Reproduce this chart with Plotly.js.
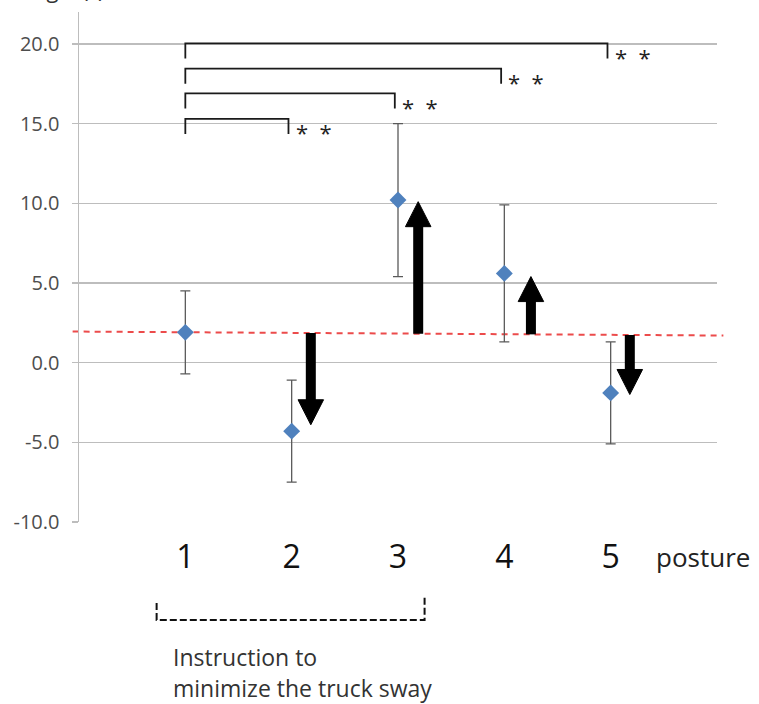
<!DOCTYPE html>
<html>
<head>
<meta charset="utf-8">
<script src="https://cdn.plot.ly/plotly-3.0.1.min.js"></script>
<style>html,body{margin:0;padding:0;background:#fff;}#chart{width:759px;height:704px;}</style>
</head>
<body>
<div id="chart"></div>
<script>
// ---- data ----
const postures = [1, 2, 3, 4, 5];
const tickLabels = ['1', '2', '3', '4', '5'];
const means = [1.9, -4.3, 10.2, 5.6, -1.9];
const errors = [2.6, 3.2, 4.8, 4.3, 3.2];
const yTicks = [-10, -5, 0, 5, 10, 15, 20];
const baselineEnds = [1.95, 1.7];           // red dashed reference line (left, right)
const arrowPostures = [2, 3, 4, 5];
const arrowTips = [-3.9, 10.1, 5.4, -2.0];
const arrowOffsets = [0.18, 0.19, 0.25, 0.18];
const sigPairs = [[1, 5], [1, 4], [1, 3], [1, 2]];
const sigLevels = [20.03, 18.45, 16.9, 15.3];
const sigLabels = ['*\u00a0\u00a0*', '*\u00a0\u00a0*', '*\u00a0\u00a0*', '*\u00a0\u00a0*'];
const groupSpan = [0.73, 3.25];
const groupLabel = ['Instruction to', 'minimize the truck sway'];

// ---- styles ----
const FONT = 'Open Sans, Lato, DejaVu Sans, sans-serif';
const GRID = '#bdbdbd';
const xRange = [0, 6];
const yRange = [-10, 22];

const traces = [{
  x: postures, y: means, type: 'scatter', mode: 'markers',
  marker: {symbol: 'diamond', size: 13, color: '#4F81BD'},
  error_y: {type: 'data', array: errors, visible: true, color: '#5a5a5a', thickness: 1.3, width: 5},
  showlegend: false, hoverinfo: 'skip'
}];

const shapes = [];
// red dashed reference line (paper x so it extends slightly beyond axes)
shapes.push({type: 'line', xref: 'paper', yref: 'y', x0: -0.01, x1: 1.01,
  y0: baselineEnds[0], y1: baselineEnds[1],
  line: {color: '#ec4b4b', width: 2, dash: '6px,5px'}, layer: 'below'});

// significance brackets
const drop = 0.95;
sigPairs.forEach((p, i) => {
  const y = sigLevels[i];
  const x0 = p[0], x1 = p[1] - 0.03;
  shapes.push({type: 'path', xref: 'x', yref: 'y',
    path: `M ${x0},${y - drop} L ${x0},${y} L ${x1},${y} L ${x1},${y - drop}`,
    line: {color: '#1a1a1a', width: 1.8}});
});

// arrows
const headHalfW = 0.12, headH = 1.57;
function baseAt(x) {
  const f = (x - xRange[0]) / (xRange[1] - xRange[0]);
  return baselineEnds[0] + (baselineEnds[1] - baselineEnds[0]) * f;
}
arrowPostures.forEach((p, i) => {
  const x = p + arrowOffsets[i];
  const base = baseAt(x);
  const tip = arrowTips[i];
  const dir = tip > base ? 1 : -1;
  const headBase = tip - dir * headH;
  shapes.push({type: 'line', xref: 'x', yref: 'y', x0: x, x1: x, y0: base, y1: headBase + dir * 0.1,
    line: {color: '#000', width: 10}});
  shapes.push({type: 'path', xref: 'x', yref: 'y',
    path: `M ${x - headHalfW},${headBase} L ${x + headHalfW},${headBase} L ${x},${tip} Z`,
    fillcolor: '#000', line: {color: '#000', width: 1}});
});

// dashed group bracket under axis
shapes.push({type: 'path', xref: 'x', yref: 'paper',
  path: `M ${groupSpan[0]},-0.159 L ${groupSpan[0]},-0.192 L ${groupSpan[1]},-0.192 L ${groupSpan[1]},-0.143`,
  line: {color: '#111', width: 2, dash: '7px,3px'}});

const annotations = [];
sigPairs.forEach((p, i) => {
  annotations.push({xref: 'x', yref: 'y', x: p[1] + 0.02, y: sigLevels[i] - 0.85,
    xanchor: 'left', yanchor: 'middle', showarrow: false, text: sigLabels[i],
    font: {family: FONT, size: 22, color: '#222'}});
});
annotations.push({xref: 'paper', yref: 'paper', x: 0.901, y: -0.069, xanchor: 'left', yanchor: 'middle',
  showarrow: false, text: 'posture', font: {family: FONT, size: 26, color: '#222'}});
annotations.push({xref: 'paper', yref: 'paper', x: 0.144, y: -0.264, xanchor: 'left', yanchor: 'middle',
  showarrow: false, text: groupLabel[0], font: {family: FONT, size: 23, color: '#333'}});
annotations.push({xref: 'paper', yref: 'paper', x: 0.144, y: -0.325, xanchor: 'left', yanchor: 'middle',
  showarrow: false, text: groupLabel[1], font: {family: FONT, size: 23, color: '#333'}});
// partially visible y-axis title at the top edge (cropped in the reference too)
annotations.push({xref: 'paper', yref: 'paper', x: 0.042, y: 1.012, xanchor: 'right', yanchor: 'bottom',
  showarrow: false, text: 'Angle (°)', font: {family: FONT, size: 22, color: '#333'}});

const layout = {
  width: 759, height: 704,
  margin: {l: 79, r: 42, t: 12, b: 182},
  paper_bgcolor: '#fff', plot_bgcolor: '#fff',
  showlegend: false,
  xaxis: {range: xRange, tickmode: 'array', tickvals: postures, ticktext: tickLabels,
    showgrid: false, zeroline: false, showline: false, ticks: '',
    tickfont: {family: FONT, size: 32, color: '#111'}, ticklabelstandoff: 13},
  yaxis: {range: yRange, tickmode: 'array', tickvals: yTicks, ticktext: yTicks.map(v => v.toFixed(1)),
    showgrid: true, gridcolor: GRID, gridwidth: 1.5, zeroline: false,
    showline: true, linecolor: GRID, linewidth: 1.5,
    ticks: 'outside', ticklen: 6, tickcolor: GRID, tickwidth: 1.5,
    tickfont: {family: FONT, size: 20, color: '#4d4d4d'}, ticklabelstandoff: 8},
  shapes: shapes,
  annotations: annotations
};

Plotly.newPlot('chart', traces, layout, {staticPlot: true, displayModeBar: false});
</script>
</body>
</html>
